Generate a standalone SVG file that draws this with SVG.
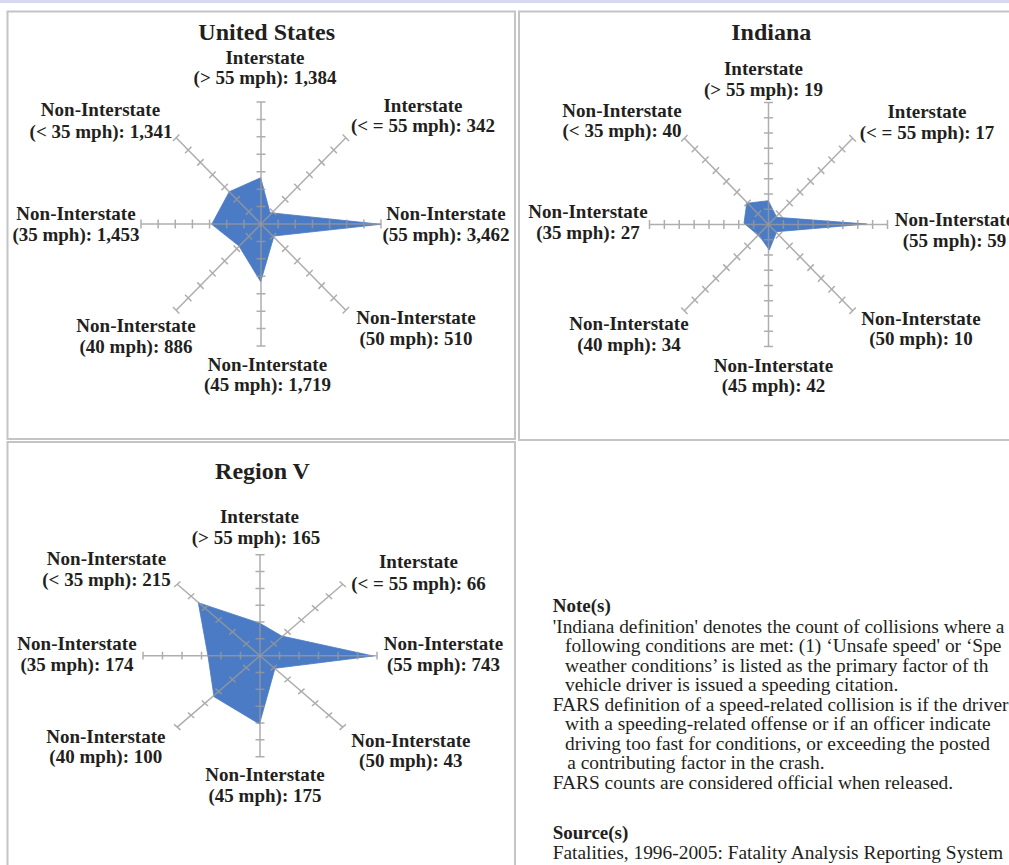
<svg xmlns="http://www.w3.org/2000/svg" width="1009" height="865" viewBox="0 0 1009 865">
<style>
.panel{fill:#ffffff;stroke:#c4c4c4;stroke-width:2}
.area{fill:#4a7bc4;stroke:#4a7bc4;stroke-width:0.8;stroke-linejoin:round}
.ax{fill:none;stroke:#9a9a9a;stroke-opacity:0.8;stroke-width:1.5;vector-effect:non-scaling-stroke}
.title{font-family:"Liberation Serif","Times New Roman",serif;font-weight:bold;font-size:24px;fill:#231f20;text-anchor:middle}
.lbl{font-family:"Liberation Serif","Times New Roman",serif;font-weight:bold;font-size:19px;fill:#231f20;text-anchor:middle}
.note{font-family:"Liberation Serif","Times New Roman",serif;font-size:19.4px;fill:#231f20}
.noteh{font-family:"Liberation Serif","Times New Roman",serif;font-size:19px;font-weight:bold;fill:#231f20}
</style>
<defs>
<path id="axUS" class="ax" d="M0,0H120 M17.14,-4.5V4.5 M34.29,-4.5V4.5 M51.43,-4.5V4.5 M68.57,-4.5V4.5 M85.71,-4.5V4.5 M102.86,-4.5V4.5 M120,-4.5V4.5"/>
<path id="axIN" class="ax" d="M0,0H119 M14.88,-4.5V4.5 M29.75,-4.5V4.5 M44.63,-4.5V4.5 M59.5,-4.5V4.5 M74.38,-4.5V4.5 M89.25,-4.5V4.5 M104.13,-4.5V4.5 M119,-4.5V4.5"/>
<path id="axRV" class="ax" d="M0,0H117 M19.5,-4.5V4.5 M39,-4.5V4.5 M58.5,-4.5V4.5 M78,-4.5V4.5 M97.5,-4.5V4.5 M117,-4.5V4.5"/>
</defs>
<rect x="0" y="0" width="1009" height="865" fill="#ffffff"/>
<rect x="0" y="0" width="1009" height="3" fill="#d8d8ef"/>

<g id="chart-us">
<rect class="panel" x="7.5" y="11.5" width="507.5" height="427.5"/>
<text class="title" x="266.7" y="39.5">United States</text>
<polygon class="area" points="260.7,177.7 270,212.7 380.7,224.3 274,236 260.7,281.7 239,246 211.7,224.3 229.3,191.7"/>
<g transform="translate(261,224) scale(1,1.017)">
<use href="#axUS"/>
<use href="#axUS" transform="rotate(45)"/>
<use href="#axUS" transform="rotate(90)"/>
<use href="#axUS" transform="rotate(135)"/>
<use href="#axUS" transform="rotate(180)"/>
<use href="#axUS" transform="rotate(225)"/>
<use href="#axUS" transform="rotate(270)"/>
<use href="#axUS" transform="rotate(315)"/>
</g>
<text class="lbl" x="265" y="64">Interstate</text>
<text class="lbl" x="265" y="83.5">(&gt; 55 mph): 1,384</text>
<text class="lbl" x="423" y="111.5">Interstate</text>
<text class="lbl" x="423" y="132">(&lt; = 55 mph): 342</text>
<text class="lbl" x="100.5" y="116">Non-Interstate</text>
<text class="lbl" x="101" y="137.5">(&lt; 35 mph): 1,341</text>
<text class="lbl" x="76" y="220">Non-Interstate</text>
<text class="lbl" x="76" y="241">(35 mph): 1,453</text>
<text class="lbl" x="446" y="220">Non-Interstate</text>
<text class="lbl" x="446" y="241">(55 mph): 3,462</text>
<text class="lbl" x="416" y="324">Non-Interstate</text>
<text class="lbl" x="416" y="345">(50 mph): 510</text>
<text class="lbl" x="136" y="332.3">Non-Interstate</text>
<text class="lbl" x="136" y="353">(40 mph): 886</text>
<text class="lbl" x="267.5" y="370.7">Non-Interstate</text>
<text class="lbl" x="267.5" y="391.3">(45 mph): 1,719</text>
</g>

<g id="chart-indiana">
<rect class="panel" x="519" y="11.5" width="500" height="428.5"/>
<text class="title" x="771.3" y="39.5">Indiana</text>
<polygon class="area" points="768.3,200.7 776.7,217.3 866.7,224 776.7,231.7 769.3,250 760,236.7 744,223.3 746.7,203.3"/>
<g transform="translate(768.5,224.5) scale(1,1.025)">
<use href="#axIN"/>
<use href="#axIN" transform="rotate(45)"/>
<use href="#axIN" transform="rotate(90)"/>
<use href="#axIN" transform="rotate(135)"/>
<use href="#axIN" transform="rotate(180)"/>
<use href="#axIN" transform="rotate(225)"/>
<use href="#axIN" transform="rotate(270)"/>
<use href="#axIN" transform="rotate(315)"/>
</g>
<text class="lbl" x="763.5" y="75">Interstate</text>
<text class="lbl" x="763.5" y="96">(&gt; 55 mph): 19</text>
<text class="lbl" x="927" y="118.3">Interstate</text>
<text class="lbl" x="927" y="139.3">(&lt; = 55 mph): 17</text>
<text class="lbl" x="622" y="116.7">Non-Interstate</text>
<text class="lbl" x="622" y="137">(&lt; 35 mph): 40</text>
<text class="lbl" x="588" y="218.3">Non-Interstate</text>
<text class="lbl" x="588" y="238.7">(35 mph): 27</text>
<text class="lbl" x="954.5" y="225.5">Non-Interstate</text>
<text class="lbl" x="954.5" y="246.7">(55 mph): 59</text>
<text class="lbl" x="921" y="325">Non-Interstate</text>
<text class="lbl" x="921" y="345.3">(50 mph): 10</text>
<text class="lbl" x="629" y="330">Non-Interstate</text>
<text class="lbl" x="629" y="350.7">(40 mph): 34</text>
<text class="lbl" x="773.5" y="371.7">Non-Interstate</text>
<text class="lbl" x="773.5" y="392">(45 mph): 42</text>
</g>

<g id="chart-region-v">
<rect class="panel" x="7.5" y="442" width="507.5" height="440"/>
<text class="title" x="262.5" y="478.5">Region V</text>
<polygon class="area" points="260,623.3 281.7,636 373.3,656 275,668.3 259.5,724 214,696.7 208,656 198.3,602.7"/>
<g transform="translate(260,655.7) scale(1,0.863)">
<use href="#axRV"/>
<use href="#axRV" transform="rotate(45)"/>
<use href="#axRV" transform="rotate(90)"/>
<use href="#axRV" transform="rotate(135)"/>
<use href="#axRV" transform="rotate(180)"/>
<use href="#axRV" transform="rotate(225)"/>
<use href="#axRV" transform="rotate(270)"/>
<use href="#axRV" transform="rotate(315)"/>
</g>
<text class="lbl" x="259.5" y="522.7">Interstate</text>
<text class="lbl" x="256" y="544">(&gt; 55 mph): 165</text>
<text class="lbl" x="418.5" y="568">Interstate</text>
<text class="lbl" x="418.5" y="589.7">(&lt; = 55 mph): 66</text>
<text class="lbl" x="106.5" y="565">Non-Interstate</text>
<text class="lbl" x="106.5" y="585.7">(&lt; 35 mph): 215</text>
<text class="lbl" x="77" y="650">Non-Interstate</text>
<text class="lbl" x="77" y="671">(35 mph): 174</text>
<text class="lbl" x="443.5" y="650">Non-Interstate</text>
<text class="lbl" x="443.5" y="671">(55 mph): 743</text>
<text class="lbl" x="105.8" y="742.7">Non-Interstate</text>
<text class="lbl" x="105.8" y="763.3">(40 mph): 100</text>
<text class="lbl" x="410.8" y="746.7">Non-Interstate</text>
<text class="lbl" x="410.8" y="767.3">(50 mph): 43</text>
<text class="lbl" x="265" y="781">Non-Interstate</text>
<text class="lbl" x="265" y="801.7">(45 mph): 175</text>
</g>

<g id="notes">
<text class="noteh" x="552.7" y="612">Note(s)</text>
<text class="note" x="552.7" y="632.5">'Indiana definition' denotes the count of collisions where a</text>
<text class="note" x="565" y="652">following conditions are met: (1) ‘Unsafe speed' or ‘Spe</text>
<text class="note" x="565" y="671.5">weather conditions’ is listed as the primary factor of th</text>
<text class="note" x="565" y="691">vehicle driver is issued a speeding citation.</text>
<text class="note" x="552.7" y="710.5">FARS definition of a speed-related collision is if the driver</text>
<text class="note" x="565" y="730">with a speeding-related offense or if an officer indicate</text>
<text class="note" x="565" y="749.5">driving too fast for conditions, or exceeding the posted</text>
<text class="note" x="567.3" y="769">a contributing factor in the crash.</text>
<text class="note" x="552.7" y="788.5">FARS counts are considered official when released.</text>
<text class="noteh" x="552.7" y="839">Source(s)</text>
<text class="note" x="552.7" y="859">Fatalities, 1996-2005: Fatality Analysis Reporting System</text>
</g>
</svg>
